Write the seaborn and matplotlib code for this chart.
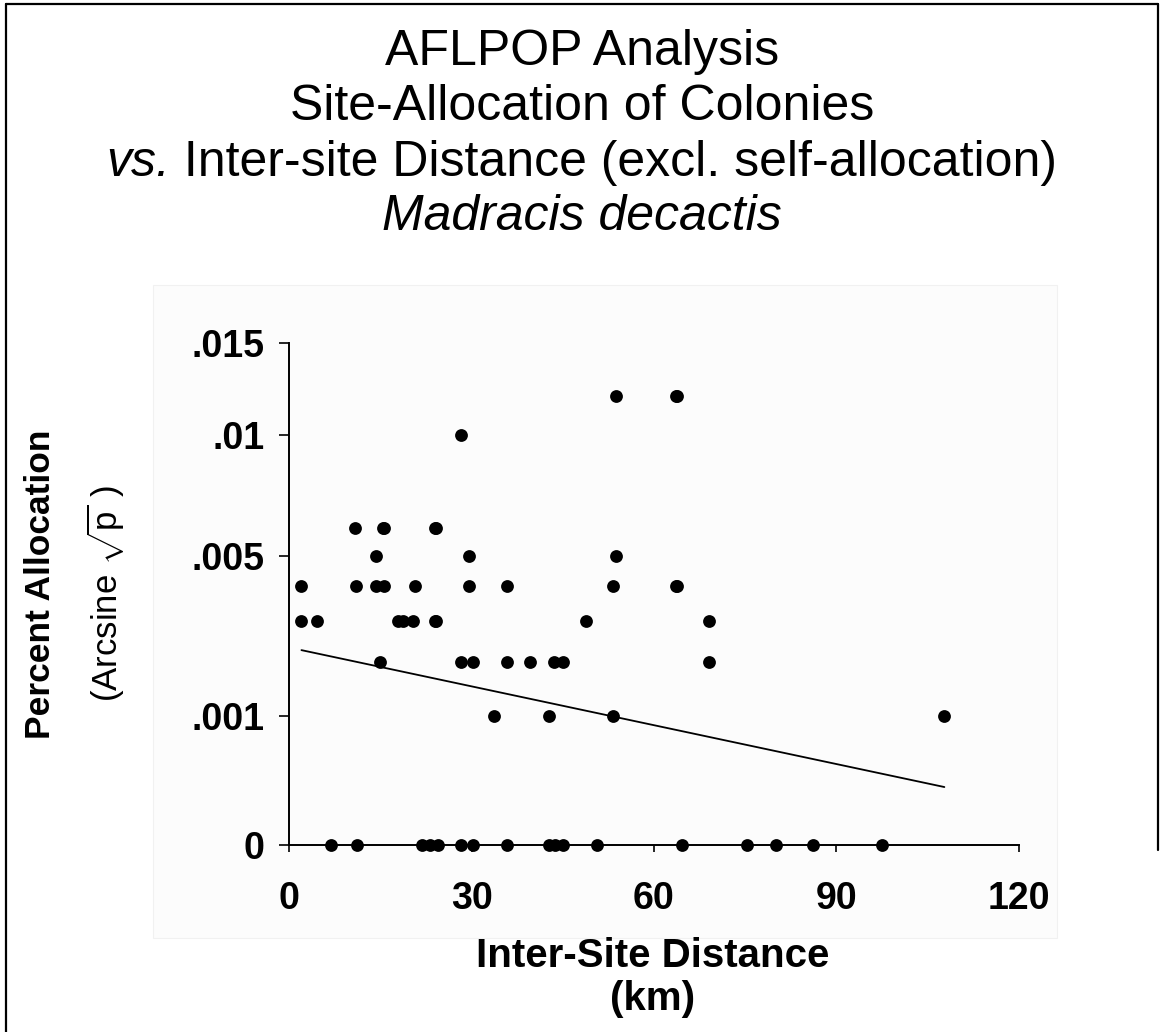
import numpy as np
import pandas as pd
import matplotlib
matplotlib.use("Agg")
import matplotlib.pyplot as plt
import seaborn as sns
from matplotlib.lines import Line2D
from matplotlib.patches import Rectangle

# ---------------- data ----------------
distance_km = [
    53.7, 63.6, 63.8,                                   # p = .012
    28.2,                                               # p = .01
    10.8, 15.4, 15.6, 24.0, 24.2,                       # p = .006
    14.2, 29.5, 53.7,                                   # p = .005
    2.0, 11.0, 14.2, 15.6, 20.7, 29.5, 35.9, 53.2, 63.6, 63.8,   # p = .004
    2.0, 4.5, 17.9, 18.7, 20.3, 24.0, 24.2, 48.8, 69.1,          # p = .003
    15.0, 28.2, 30.2, 35.9, 39.6, 43.6, 45.0, 69.1,              # p = .002
    33.7, 42.7, 53.2, 107.8,                                     # p = .001
    6.9, 11.2, 21.9, 23.1, 24.5, 28.2, 30.2, 35.9, 42.7, 43.7,
    45.0, 50.7, 64.6, 75.4, 80.1, 86.1, 97.6,                    # p = 0
]
allocation_p = (
    [0.012] * 3 + [0.010] * 1 + [0.006] * 5 + [0.005] * 3 +
    [0.004] * 10 + [0.003] * 9 + [0.002] * 8 + [0.001] * 4 + [0.0] * 17
)

# linear trend line (straight in arcsine-sqrt space), end points
trend_km = [2.0, 107.8]
trend_p = [0.00227, 0.000201]

x_ticks = [0, 30, 60, 90, 120]
x_tick_labels = ["0", "30", "60", "90", "120"]
y_ticks = [0.0, 0.001, 0.005, 0.01, 0.015]
y_tick_labels = ["0", ".001", ".005", ".01", ".015"]

title_lines = ["AFLPOP Analysis", "Site-Allocation of Colonies",
               "Inter-site Distance (excl. self-allocation)", "Madracis decactis"]

df = pd.DataFrame({"distance": distance_km, "allocation": allocation_p})
trend = pd.DataFrame({"distance": trend_km, "allocation": trend_p})

# ---------------- style ----------------
sns.set_style("ticks")
plt.rcParams["font.family"] = ["Liberation Sans", "DejaVu Sans"]
plt.rcParams["mathtext.fontset"] = "custom"
plt.rcParams["mathtext.rm"] = "Liberation Sans"
plt.rcParams["mathtext.it"] = "Liberation Sans:italic"
for k in ["text.color", "axes.labelcolor", "xtick.color", "ytick.color", "axes.edgecolor"]:
    plt.rcParams[k] = "black"

W, H = 1161, 1032
fig = plt.figure(figsize=(W / 100, H / 100), dpi=100)
fig.patch.set_facecolor("white")

# faint plot-area panel (behind the axes)
fig.patches.append(Rectangle((153 / W, 1 - 938 / H), (1057 - 153) / W, (938 - 285) / H,
                             transform=fig.transFigure, facecolor="#fcfcfc",
                             edgecolor="#f1f1f1", lw=0.8, zorder=-5))

# outer frame (left, top, right)
fig.add_artist(Line2D([5.5 / W, 5.5 / W], [0, 1 - 4 / H], transform=fig.transFigure,
                      color="black", lw=1.6))
fig.add_artist(Line2D([5.5 / W, 1157.5 / W], [1 - 4 / H, 1 - 4 / H], transform=fig.transFigure,
                      color="black", lw=1.6))
fig.add_artist(Line2D([1157.5 / W, 1157.5 / W], [1 - 850 / H, 1 - 4 / H], transform=fig.transFigure,
                      color="black", lw=1.6))

ax = fig.add_axes([289.3 / W, 1 - 845 / H, 729.2 / W, 502 / H])
ax.set_facecolor("none")
ax.set_zorder(2)


def fwd(p):
    return np.arcsin(np.sqrt(np.clip(p, 0, 1)))


def inv(t):
    return np.sin(np.clip(t, 0, np.pi / 2)) ** 2


ax.set_yscale("function", functions=(fwd, inv))

sns.scatterplot(data=df, x="distance", y="allocation", ax=ax, color="black",
                s=85, edgecolor="black", linewidth=0, zorder=3, clip_on=False)
sns.lineplot(data=trend, x="distance", y="allocation", ax=ax, color="black", lw=1.3, zorder=2)

ax.set_xlim(0, 120)
ax.set_ylim(0, 0.015)
ax.set_xticks(x_ticks)
ax.set_xticklabels(x_tick_labels, fontsize=27, fontweight="bold")
ax.set_yticks(y_ticks)
ax.set_yticklabels(y_tick_labels, fontsize=27, fontweight="bold")
ax.minorticks_off()
ax.tick_params(axis="x", direction="out", length=5, width=1.2, pad=21, colors="black")
ax.tick_params(axis="y", direction="out", length=7, width=1.2, pad=11, colors="black")

sns.despine(ax=ax)
for s in ["left", "bottom"]:
    ax.spines[s].set_color("black")
    ax.spines[s].set_linewidth(1.4)

ax.set_xlabel("Inter-Site Distance\n(km)", fontsize=29, fontweight="bold", linespacing=1.15)
ax.xaxis.set_label_coords((653 - 289.3) / 729.2, (845 - 937) / 502)

ax.set_ylabel("Percent Allocation", fontsize=25.5, fontweight="bold")
ax.yaxis.label.set_verticalalignment("center")
ax.yaxis.set_label_coords((41 - 289.3) / 729.2, (845 - 584) / 502)
ax.text((106 - 289.3) / 729.2, (845 - 594) / 502, r"(Arcsine $\sqrt{\mathrm{p}}$ )",
        transform=ax.transAxes, rotation=90, ha="center", va="center", fontsize=25)

# ---------------- title ----------------
cx = 582 / W
fs_title = 36
fig.text(cx, 1 - 65 / H, title_lines[0], ha="center", va="baseline", fontsize=fs_title)
fig.text(cx, 1 - 120 / H, title_lines[1], ha="center", va="baseline", fontsize=fs_title)
fig.text(cx, 1 - 230 / H, title_lines[3], ha="center", va="baseline", fontsize=fs_title,
         style="italic")

renderer = fig.canvas.get_renderer()
t1 = fig.text(0, 1 - 176 / H, "vs.", ha="left", va="baseline", fontsize=fs_title, style="italic")
t2 = fig.text(0, 1 - 176 / H, " " + title_lines[2], ha="left", va="baseline", fontsize=fs_title)
w1 = t1.get_window_extent(renderer).width
w2 = t2.get_window_extent(renderer).width
x0 = 582 - (w1 + w2) / 2
t1.set_x(x0 / W)
t2.set_x((x0 + w1) / W)

fig.savefig("out.png", dpi=100)
